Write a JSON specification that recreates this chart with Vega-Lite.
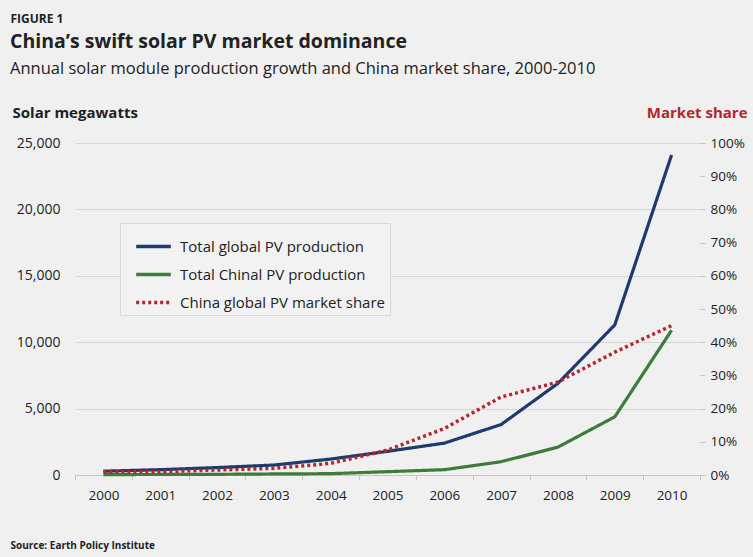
{
  "$schema": "https://vega.github.io/schema/vega-lite/v6.json",
  "width": 625,
  "height": 332,
  "autosize": {"type": "none"},
  "padding": {"left": 75, "top": 143, "right": 53, "bottom": 82},
  "background": "#f0f0f0",
  "config": {"font": "Open Sans", "view": {"stroke": null}},
  "title": {
    "text": "China’s swift solar PV market dominance",
    "subtitle": "Annual solar module production growth and China market share, 2000-2010",
    "anchor": "start",
    "frame": "group",
    "dx": -65,
    "dy": 70,
    "fontSize": 19.5,
    "fontWeight": "bold",
    "color": "#222222",
    "subtitleFontSize": 16.5,
    "subtitleColor": "#222222",
    "subtitlePadding": 8
  },
  "data": {
    "values": [
      {"year": "2000", "series": "Total global PV production", "value": 288},
      {"year": "2001", "series": "Total global PV production", "value": 401},
      {"year": "2002", "series": "Total global PV production", "value": 560},
      {"year": "2003", "series": "Total global PV production", "value": 750},
      {"year": "2004", "series": "Total global PV production", "value": 1199},
      {"year": "2005", "series": "Total global PV production", "value": 1782},
      {"year": "2006", "series": "Total global PV production", "value": 2400},
      {"year": "2007", "series": "Total global PV production", "value": 3800},
      {"year": "2008", "series": "Total global PV production", "value": 6900},
      {"year": "2009", "series": "Total global PV production", "value": 11300},
      {"year": "2010", "series": "Total global PV production", "value": 24100},
      {"year": "2000", "series": "Total Chinal PV production", "value": 30},
      {"year": "2001", "series": "Total Chinal PV production", "value": 40},
      {"year": "2002", "series": "Total Chinal PV production", "value": 50},
      {"year": "2003", "series": "Total Chinal PV production", "value": 80},
      {"year": "2004", "series": "Total Chinal PV production", "value": 100},
      {"year": "2005", "series": "Total Chinal PV production", "value": 250},
      {"year": "2006", "series": "Total Chinal PV production", "value": 400},
      {"year": "2007", "series": "Total Chinal PV production", "value": 1000},
      {"year": "2008", "series": "Total Chinal PV production", "value": 2100},
      {"year": "2009", "series": "Total Chinal PV production", "value": 4380},
      {"year": "2010", "series": "Total Chinal PV production", "value": 10900},
      {"year": "2000", "series": "China global PV market share", "value": 0.01},
      {"year": "2001", "series": "China global PV market share", "value": 0.01},
      {"year": "2002", "series": "China global PV market share", "value": 0.015},
      {"year": "2003", "series": "China global PV market share", "value": 0.02},
      {"year": "2004", "series": "China global PV market share", "value": 0.035},
      {"year": "2005", "series": "China global PV market share", "value": 0.075},
      {"year": "2006", "series": "China global PV market share", "value": 0.14},
      {"year": "2007", "series": "China global PV market share", "value": 0.235},
      {"year": "2008", "series": "China global PV market share", "value": 0.28},
      {"year": "2009", "series": "China global PV market share", "value": 0.37},
      {"year": "2010", "series": "China global PV market share", "value": 0.45}
    ]
  },
  "layer": [
    {
      "transform": [{"filter": "datum.series !== 'China global PV market share'"}],
      "mark": {"type": "line", "strokeWidth": 3.2},
      "encoding": {
        "x": {
          "field": "year", "type": "ordinal",
          "scale": {"type": "band", "paddingInner": 0, "paddingOuter": 0},
          "bandPosition": 0.5,
          "axis": {
            "orient": "bottom", "labelAngle": 0, "labelFontSize": 13.5, "labelColor": "#222222",
            "labelPadding": 8, "tickBand": "extent", "tickSize": 5, "tickColor": "#c4c4c4",
            "domainColor": "#c4c4c4", "grid": false,
            "title": "Source: Earth Policy Institute", "titleFontSize": 10, "titleFontWeight": "bold",
            "titleColor": "#222222", "titleAnchor": "start", "titleAlign": "left",
            "titleBaseline": "alphabetic", "titleX": -65, "titleY": 73
          }
        },
        "y": {
          "field": "value", "type": "quantitative",
          "scale": {"domain": [0, 25000], "nice": false},
          "axis": {
            "values": [0, 5000, 10000, 15000, 20000, 25000], "format": ",d",
            "labelFontSize": 14, "labelColor": "#222222", "labelPadding": 15, "ticks": false, "domain": false,
            "gridColor": "#d6d6d6",
            "title": "Solar megawatts", "titleAngle": 0, "titleAlign": "left", "titleBaseline": "alphabetic",
            "titleX": -63, "titleY": -26, "titleFontSize": 15, "titleFontWeight": "bold", "titleColor": "#222222"
          }
        },
        "color": {
          "field": "series", "type": "nominal",
          "scale": {
            "domain": ["Total global PV production", "Total Chinal PV production", "China global PV market share"],
            "range": ["#1f3a6d", "#3f7c3c", "#b3262e"]
          },
          "legend": {
            "orient": "none", "legendX": 45, "legendY": 80, "title": null,
            "fillColor": "#f2f2f2", "strokeColor": "#d9d9d9", "padding": 4,
            "labelFontSize": 15, "labelColor": "#222222", "labelLimit": 300, "labelOffset": 7,
            "symbolType": "stroke", "symbolSize": 1200, "symbolStrokeWidth": 3.5, "rowPadding": -6, "symbolOffset": 10
          }
        },
        "strokeDash": {
          "field": "series", "type": "nominal",
          "scale": {
            "domain": ["Total global PV production", "Total Chinal PV production", "China global PV market share"],
            "range": [[1, 0], [1, 0], [3, 3]]
          },
          "legend": {
            "orient": "none", "legendX": 45, "legendY": 80, "title": null,
            "fillColor": "#f2f2f2", "strokeColor": "#d9d9d9", "padding": 4,
            "labelFontSize": 15, "labelColor": "#222222", "labelLimit": 300, "labelOffset": 7,
            "symbolType": "stroke", "symbolSize": 1200, "symbolStrokeWidth": 3.5, "rowPadding": -6, "symbolOffset": 10
          }
        }
      }
    },
    {
      "transform": [{"filter": "datum.series === 'China global PV market share'"}],
      "mark": {"type": "line", "strokeWidth": 3.5},
      "encoding": {
        "x": {
          "field": "year", "type": "ordinal",
          "bandPosition": 0.5,
          "axis": {
            "orient": "top", "labels": false, "ticks": false, "domain": false, "grid": false,
            "title": "FIGURE 1", "titleFontSize": 12, "titleFontWeight": "bold", "titleColor": "#222222",
            "titleAnchor": "start", "titleAlign": "left", "titleBaseline": "alphabetic",
            "titleX": -65, "titleY": -121
          }
        },
        "y": {
          "field": "value", "type": "quantitative",
          "scale": {"domain": [0, 1], "nice": false},
          "axis": {
            "orient": "right", "values": [0, 0.1, 0.2, 0.3, 0.4, 0.5, 0.6, 0.7, 0.8, 0.9, 1], "format": ".0%",
            "labelFontSize": 13.5, "labelColor": "#222222", "labelPadding": 5, "tickSize": 5, "tickColor": "#c4c4c4",
            "domain": false, "grid": false,
            "title": "Market share", "titleAngle": 0, "titleAlign": "right", "titleBaseline": "alphabetic",
            "titleX": 47, "titleY": -26, "titleFontSize": 15, "titleFontWeight": "bold", "titleColor": "#b3262e"
          }
        },
        "color": {"field": "series", "type": "nominal"},
        "strokeDash": {"field": "series", "type": "nominal"}
      }
    }
  ],
  "resolve": {"scale": {"y": "independent"}, "axis": {"x": "independent"}}
}
